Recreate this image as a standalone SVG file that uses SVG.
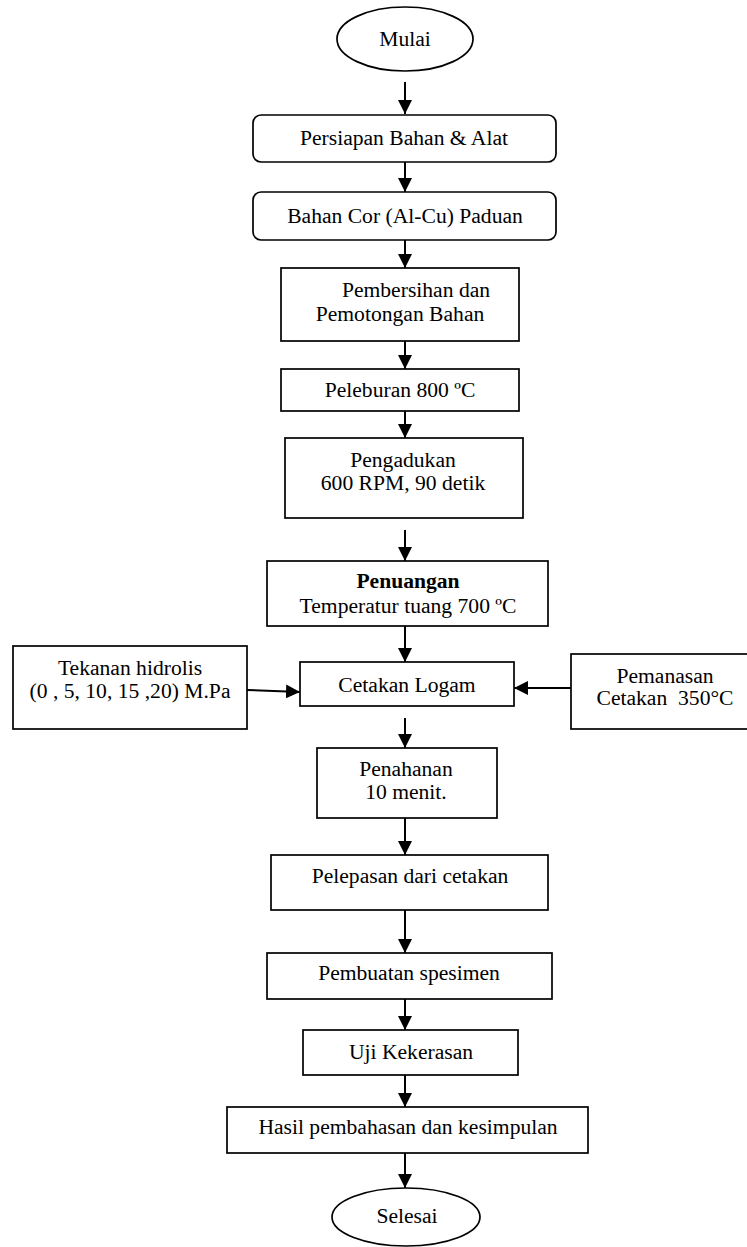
<svg xmlns="http://www.w3.org/2000/svg" width="747" height="1247" viewBox="0 0 747 1247">
<style>
.box{fill:#fff;stroke:#000;stroke-width:1.7}
.t{font-family:"Liberation Serif","Times New Roman",serif;font-size:21.6px;fill:#000;text-anchor:middle;white-space:pre}
.b{font-weight:bold}
.c{stroke:#000;stroke-width:2;fill:none;marker-end:url(#ah)}
</style>
<defs>
<marker id="ah" markerUnits="userSpaceOnUse" markerWidth="14" markerHeight="14" viewBox="0 0 12 12" refX="12" refY="6" orient="auto">
<path d="M0,0 L12,6 L0,12 Z" fill="#000"/>
</marker>
</defs>
<rect width="747" height="1247" fill="#fff"/>
<g id="connectors">
<line class="c" x1="405" y1="82" x2="405" y2="114"/>
<line class="c" x1="405" y1="162" x2="405" y2="192"/>
<line class="c" x1="405" y1="240" x2="405" y2="268"/>
<line class="c" x1="405" y1="341" x2="405" y2="369"/>
<line class="c" x1="405" y1="411" x2="405" y2="438"/>
<line class="c" x1="405" y1="530" x2="405" y2="561"/>
<line class="c" x1="405" y1="626" x2="405" y2="662"/>
<line class="c" x1="247" y1="690" x2="300" y2="692"/>
<line class="c" x1="571" y1="688" x2="514" y2="688"/>
<line class="c" x1="405" y1="718" x2="405" y2="748"/>
<line class="c" x1="405" y1="818" x2="405" y2="855"/>
<line class="c" x1="405" y1="910" x2="405" y2="953"/>
<line class="c" x1="405" y1="999" x2="405" y2="1030"/>
<line class="c" x1="405" y1="1075" x2="405" y2="1107"/>
<line class="c" x1="405" y1="1153" x2="405" y2="1188"/>
</g>
<g id="mulai">
<ellipse class="box" cx="405" cy="39" rx="68" ry="32"/>
<text class="t" x="405" y="46">Mulai</text>
</g>
<g id="persiapan">
<rect class="box" x="253" y="115" width="303" height="47" rx="8"/>
<text class="t" x="404" y="145">Persiapan Bahan &amp; Alat</text>
</g>
<g id="bahan">
<rect class="box" x="253" y="192" width="303" height="48" rx="8"/>
<text class="t" x="405" y="223">Bahan Cor (Al-Cu) Paduan</text>
</g>
<g id="pembersihan">
<rect class="box" x="281" y="268" width="238" height="73"/>
<text class="t" x="416" y="297">Pembersihan dan</text>
<text class="t" x="400" y="321">Pemotongan Bahan</text>
</g>
<g id="peleburan">
<rect class="box" x="281" y="369" width="238" height="42"/>
<text class="t" x="400" y="397">Peleburan 800 ºC</text>
</g>
<g id="pengadukan">
<rect class="box" x="285" y="438" width="238" height="80"/>
<text class="t" x="403" y="467">Pengadukan</text>
<text class="t" x="403" y="490">600 RPM, 90 detik</text>
</g>
<g id="penuangan">
<rect class="box" x="267" y="561" width="281" height="65"/>
<text class="t b" x="408" y="588">Penuangan</text>
<text class="t" x="408" y="613">Temperatur tuang 700 ºC</text>
</g>
<g id="cetakan">
<rect class="box" x="300" y="662" width="214" height="44"/>
<text class="t" x="407" y="692">Cetakan Logam</text>
</g>
<g id="tekanan">
<rect class="box" x="13" y="646" width="234" height="83"/>
<text class="t" x="130" y="675">Tekanan hidrolis</text>
<text class="t" x="130" y="698">(0 , 5, 10, 15 ,20) M.Pa</text>
</g>
<g id="pemanasan">
<rect class="box" x="571" y="654" width="190" height="75"/>
<text class="t" x="665" y="683">Pemanasan</text>
<text class="t" x="665" y="705">Cetakan  350°C</text>
</g>
<g id="penahanan">
<rect class="box" x="317" y="748" width="180" height="70"/>
<text class="t" x="406" y="776">Penahanan</text>
<text class="t" x="406" y="799">10 menit.</text>
</g>
<g id="pelepasan">
<rect class="box" x="271" y="855" width="277" height="55"/>
<text class="t" x="410" y="883">Pelepasan dari cetakan</text>
</g>
<g id="pembuatan">
<rect class="box" x="267" y="953" width="285" height="46"/>
<text class="t" x="409" y="980">Pembuatan spesimen</text>
</g>
<g id="uji">
<rect class="box" x="303" y="1030" width="215" height="45"/>
<text class="t" x="411" y="1059">Uji Kekerasan</text>
</g>
<g id="hasil">
<rect class="box" x="227" y="1107" width="361" height="46"/>
<text class="t" x="408" y="1134">Hasil pembahasan dan kesimpulan</text>
</g>
<g id="selesai">
<ellipse class="box" cx="406" cy="1217" rx="74" ry="29"/>
<text class="t" x="407" y="1223">Selesai</text>
</g>
</svg>
